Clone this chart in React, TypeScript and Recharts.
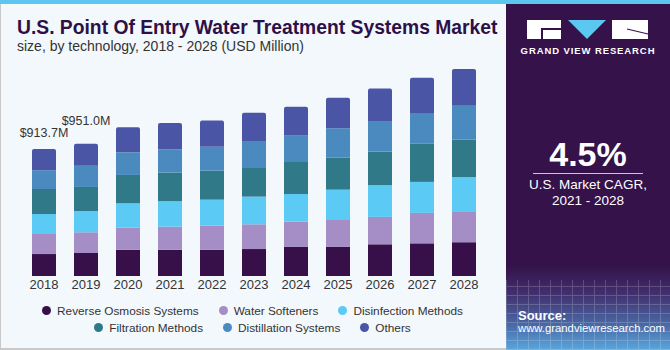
import React from 'react';
import { BarChart, Bar, XAxis, YAxis, Legend, LabelList } from 'recharts';

document.body.style.margin = '0';

const years = ['2018', '2019', '2020', '2021', '2022', '2023', '2024', '2025', '2026', '2027', '2028'];
const reverseOsmosis = [158, 165.6, 189, 189, 189, 194, 209, 209, 228, 235, 243];
const waterSofteners = [144, 149, 158, 166, 173, 178, 182, 194, 197, 219, 223];
const disinfection = [144, 153, 176, 183, 187, 199, 199, 218, 228, 223, 245];
const filtration = [180, 173, 204, 206, 209, 212, 230, 230, 242, 274, 271];
const distillation = [135, 153, 163, 166, 171, 182, 194, 212, 214, 216, 243];
const others = [152.7, 157.4, 180, 190, 189, 209, 204, 220, 240, 259, 264];
const totalLabels = ['$913.7M', '$951.0M'];

const data = years.map((year, i) => ({
  year,
  ro: reverseOsmosis[i],
  ws: waterSofteners[i],
  dis: disinfection[i],
  filt: filtration[i],
  dist: distillation[i],
  oth: others[i],
}));

const series = [
  { key: 'ro', name: 'Reverse Osmosis Systems', color: '#37104a' },
  { key: 'ws', name: 'Water Softeners', color: '#a48ec5' },
  { key: 'dis', name: 'Disinfection Methods', color: '#5bcaf5' },
  { key: 'filt', name: 'Filtration Methods', color: '#2f7989' },
  { key: 'dist', name: 'Distillation Systems', color: '#4b8abf' },
  { key: 'oth', name: 'Others', color: '#4a55a6' },
];

const font = '"Liberation Sans", Arial, sans-serif';

const renderTotal = (props: any) => {
  const { x, y, width, index } = props;
  const text = totalLabels[index];
  if (!text) return null;
  const lift = index === 0 ? 16 : 23;
  return (
    <text x={x + width / 2} y={y - lift} textAnchor="middle" dominantBaseline="central"
      fontSize={12.5} fill="#333" fontFamily={font}>
      {text}
    </text>
  );
};

// legend keeps the series order, two rows of three
const LegendRows = () => {
  const row = (list: typeof series) => (
    <div style={{ display: 'flex', justifyContent: 'center', height: 17, alignItems: 'center', whiteSpace: 'nowrap' }}>
      {list.map((s) => (
        <div key={s.key} style={{ display: 'flex', alignItems: 'center', margin: '0 10px', flexShrink: 0 }}>
          <span style={{ width: 9, height: 9, borderRadius: '50%', background: s.color, marginRight: 6 }} />
          <span style={{ fontSize: 11.8, color: '#333', fontFamily: font }}>{s.name}</span>
        </div>
      ))}
    </div>
  );
  return (
    <div style={{ width: 505 }}>
      {row(series.slice(0, 3))}
      {row(series.slice(3))}
    </div>
  );
};

const Logo = () => (
  <svg width={122} height={20} style={{ display: 'block' }}>
    <rect x={0} y={0} width={34} height={19} fill="#fff" />
    <rect x={14} y={8} width={20} height={2} fill="#35124a" />
    <rect x={14} y={8} width={2} height={11} fill="#35124a" />
    <polygon points="41,0 79,0 60,19" fill="#5bc8f2" />
    <rect x={85} y={0} width={36} height={19} fill="#fff" />
    <line x1={100} y1={9} x2={121} y2={14} stroke="#35124a" strokeWidth={1.2} />
  </svg>
);

const App = () => {
  return (
    <div style={{ position: 'relative', width: 670, height: 350, background: '#f3f8fc', overflow: 'hidden', fontFamily: font }}>
      <div style={{ position: 'absolute', left: 0, top: 0, width: 670, height: 4, background: '#5bc6ef', zIndex: 3 }} />
      <div style={{ position: 'absolute', left: 0, top: 0, width: 1, height: 350, background: '#c9c9c9' }} />
      <div style={{ position: 'absolute', left: 0, top: 348, width: 506, height: 2, background: '#c9c9c9' }} />

      <div style={{ position: 'absolute', left: 17, top: 17, fontSize: 19.3, fontWeight: 700, color: '#2e1048', whiteSpace: 'nowrap' }}>
        U.S. Point Of Entry Water Treatment Systems Market
      </div>
      <div style={{ position: 'absolute', left: 17, top: 38, fontSize: 14, color: '#333', whiteSpace: 'nowrap' }}>
        size, by technology, 2018 - 2028 (USD Million)
      </div>

      <div style={{ position: 'absolute', left: 0, top: 0 }}>
        <BarChart width={505} height={350} data={data} margin={{ top: 67.5, right: 20, bottom: 13, left: 23 }} barSize={24}>
          <XAxis dataKey="year" axisLine={false} tickLine={false} tickSize={0} tickMargin={4} height={26}
            tick={{ fontSize: 13, fill: '#333', fontFamily: font }} interval={0} />
          <YAxis hide domain={[0, 1500]} />
          <Legend verticalAlign="bottom" height={35} content={<LegendRows />}
            wrapperStyle={{ left: 0, width: 505 }} />
          {series.map((s, i) => (
            <Bar key={s.key} dataKey={s.key} name={s.name} stackId="a" fill={s.color}
              radius={i === series.length - 1 ? [2, 2, 0, 0] : 0} isAnimationActive={false}>
              {i === series.length - 1 && <LabelList dataKey={s.key} content={renderTotal} />}
            </Bar>
          ))}
        </BarChart>
      </div>

      <div style={{
        position: 'absolute', left: 506, top: 0, width: 164, height: 350,
        background: 'linear-gradient(to bottom, #35124a 0%, #35124a 76%, #41306e 84%, #4a6aa6 93%, #5aa6dc 100%)',
      }}>
        <div style={{
          position: 'absolute', left: 0, top: 280, width: 164, height: 70, opacity: 0.18,
          backgroundImage: 'repeating-linear-gradient(0deg, #fff 0 1px, transparent 1px 9px), repeating-linear-gradient(90deg, #fff 0 1px, transparent 1px 11px)',
        }} />
        <div style={{ position: 'absolute', left: 21, top: 20 }}>
          <Logo />
        </div>
        <div style={{ position: 'absolute', left: 0, width: 164, top: 45, textAlign: 'center', color: '#fff', fontSize: 9.5, fontWeight: 700, letterSpacing: 0.9 }}>
          GRAND VIEW RESEARCH
        </div>
        <div style={{ position: 'absolute', left: 0, width: 164, top: 135, textAlign: 'center', color: '#fff', fontSize: 34, fontWeight: 700 }}>
          4.5%
        </div>
        <div style={{ position: 'absolute', left: 27, top: 173, width: 110, height: 1, background: '#cfc3d8' }} />
        <div style={{ position: 'absolute', left: 0, width: 164, top: 177, textAlign: 'center', color: '#fff', fontSize: 13.5, lineHeight: '16px' }}>
          U.S. Market CAGR,<br />2021 - 2028
        </div>
        <div style={{ position: 'absolute', left: 12, top: 308, color: '#fff', fontSize: 13, fontWeight: 700 }}>
          Source:
        </div>
        <div style={{ position: 'absolute', left: 12, top: 322, color: '#fff', fontSize: 11.3, whiteSpace: 'nowrap' }}>
          www.grandviewresearch.com
        </div>
      </div>
    </div>
  );
};

export default App;
